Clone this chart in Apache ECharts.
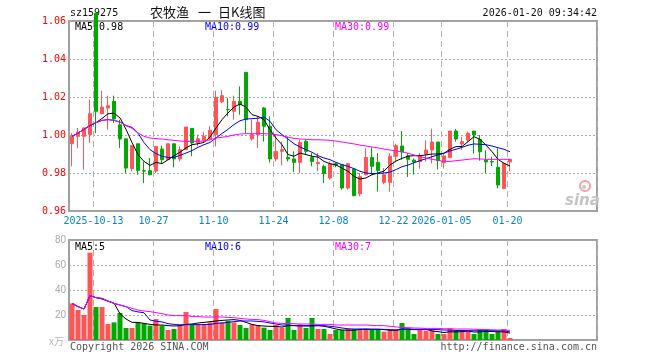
<!DOCTYPE html>
<html><head><meta charset="utf-8">
<script src="https://cdn.jsdelivr.net/npm/echarts@6/dist/echarts.min.js"></script>
<style>html,body{margin:0;padding:0;background:#fff}#c{width:660px;height:360px}</style>
</head><body><div id="c"></div>
<script>
// ---- data ----
const dates = ['2025-09-29','2025-09-30','2025-10-09','2025-10-10',
'2025-10-13','2025-10-14','2025-10-15','2025-10-16','2025-10-17',
'2025-10-20','2025-10-21','2025-10-22','2025-10-23','2025-10-24',
'2025-10-27','2025-10-28','2025-10-29','2025-10-30','2025-10-31',
'2025-11-03','2025-11-04','2025-11-05','2025-11-06','2025-11-07',
'2025-11-10','2025-11-11','2025-11-12','2025-11-13','2025-11-14',
'2025-11-17','2025-11-18','2025-11-19','2025-11-20','2025-11-21',
'2025-11-24','2025-11-25','2025-11-26','2025-11-27','2025-11-28',
'2025-12-01','2025-12-02','2025-12-03','2025-12-04','2025-12-05',
'2025-12-08','2025-12-09','2025-12-10','2025-12-11','2025-12-12',
'2025-12-15','2025-12-16','2025-12-17','2025-12-18','2025-12-19',
'2025-12-22','2025-12-23','2025-12-24','2025-12-25','2025-12-26',
'2025-12-29','2025-12-30','2025-12-31',
'2026-01-05','2026-01-06','2026-01-07','2026-01-08','2026-01-09',
'2026-01-12','2026-01-13','2026-01-14','2026-01-15','2026-01-16',
'2026-01-19','2026-01-20'];
const emptySlots = 14;
const labelDates = ['2025-10-13','2025-10-27','2025-11-10','2025-11-24','2025-12-08','2025-12-22','2026-01-05','2026-01-20'];
const labelTexts = ['2025-10-13','10-27','11-10','11-24','12-08','12-22','2026-01-05','01-20'];
const priceTicks = [0.96, 1.06, 0.02];
const volTicks = [0, 80, 20];

const opens = [0.9954,0.9993,0.9993,1.0002,1.0640,1.0112,1.0142,1.0177,1.0054,0.9980,
0.9823,0.9954,0.9812,0.9812,0.9810,0.9926,0.9870,0.9954,0.9874,0.9923,
1.0035,0.9960,0.9972,0.9979,1.0002,1.0175,1.0135,1.0125,1.0177,1.0330,
0.9980,1.0002,1.0142,1.0046,0.9874,0.9914,0.9882,0.9874,0.9856,0.9967,
0.9882,0.9849,0.9835,0.9774,0.9849,0.9844,0.9721,0.9821,0.9691,0.9791,
0.9882,0.9856,0.9751,0.9751,0.9888,0.9942,0.9890,0.9868,0.9860,0.9900,
0.9921,0.9963,0.9854,0.9882,1.0021,0.9953,0.9974,1.0021,0.9977,0.9868,
0.9860,0.9830,0.9719,0.9858];
const closes = [0.9993,1.0014,1.0037,1.0112,1.0125,1.0147,1.0154,1.0084,0.9979,0.9826,
0.9944,0.9814,0.9810,0.9791,0.9940,0.9870,0.9954,0.9874,0.9923,1.0042,
0.9958,0.9980,0.9993,1.0025,1.0198,1.0207,1.0133,1.0177,1.0160,1.0081,
1.0002,1.0067,1.0046,0.9874,0.9914,0.9923,0.9874,0.9856,0.9961,0.9914,
0.9861,0.9856,0.9797,0.9849,0.9842,0.9721,0.9849,0.9681,0.9782,0.9882,
0.9835,0.9814,0.9791,0.9888,0.9944,0.9910,0.9872,0.9858,0.9890,0.9921,
0.9963,0.9865,0.9890,1.0021,0.9979,0.9965,1.0009,1.0000,0.9912,0.9858,
0.9858,0.9737,0.9851,0.9872];
const lows = [0.9835,0.9930,0.9818,0.9958,1.0010,1.0110,1.0028,1.0063,0.9932,0.9800,
0.9810,0.9791,0.9747,0.9788,0.9800,0.9849,0.9870,0.9830,0.9861,0.9923,
0.9888,0.9940,0.9961,0.9972,0.9940,1.0168,1.0098,1.0081,1.0107,1.0010,
0.9970,0.9932,0.9965,0.9856,0.9861,0.9840,0.9861,0.9805,0.9800,0.9896,
0.9835,0.9810,0.9747,0.9765,0.9830,0.9712,0.9712,0.9677,0.9677,0.9786,
0.9791,0.9702,0.9742,0.9702,0.9856,0.9870,0.9779,0.9791,0.9823,0.9860,
0.9851,0.9819,0.9824,0.9877,0.9965,0.9921,0.9965,0.9902,0.9865,0.9800,
0.9837,0.9719,0.9714,0.9809];
const highs = [1.0010,1.0037,1.0040,1.0186,1.0640,1.0233,1.0207,1.0207,1.0080,0.9980,
0.9944,0.9954,0.9861,0.9879,0.9940,0.9944,0.9954,0.9954,0.9940,1.0042,
1.0035,1.0002,1.0014,1.0046,1.0233,1.0235,1.0195,1.0207,1.0256,1.0330,
1.0081,1.0098,1.0147,1.0098,1.0002,0.9965,0.9989,0.9914,0.9975,0.9975,
0.9905,0.9905,0.9844,0.9861,0.9856,0.9844,0.9852,0.9821,0.9800,0.9930,
0.9935,0.9905,0.9826,0.9905,0.9954,1.0021,0.9905,0.9877,0.9905,0.9972,
1.0033,0.9963,0.9905,1.0021,1.0032,0.9991,1.0018,1.0021,1.0000,0.9919,
0.9886,0.9930,0.9854,0.9872];

const ma5 = [0.9993,1.0010,1.0030,1.0050,1.0065,1.0087,1.0112,1.0115,1.0090,1.0030,
0.9960,0.9897,0.9861,0.9840,0.9856,0.9849,0.9870,0.9891,0.9909,0.9932,
0.9949,0.9954,0.9961,0.9989,1.0037,1.0081,1.0116,1.0147,1.0163,1.0147,
1.0107,1.0098,1.0081,1.0028,0.9984,0.9949,0.9897,0.9888,0.9905,0.9897,
0.9888,0.9884,0.9861,0.9849,0.9842,0.9826,0.9809,0.9782,0.9768,0.9774,
0.9791,0.9800,0.9810,0.9842,0.9863,0.9877,0.9889,0.9891,0.9891,0.9895,
0.9900,0.9900,0.9904,0.9925,0.9939,0.9939,0.9965,0.9991,0.9977,0.9947,
0.9912,0.9872,0.9851,0.9837];
const ma10 = [0.9993,1.0010,1.0030,1.0050,1.0065,1.0077,1.0081,1.0077,1.0068,1.0050,
1.0040,1.0010,0.9960,0.9923,0.9902,0.9888,0.9882,0.9882,0.9893,0.9905,
0.9918,0.9935,0.9949,0.9961,0.9984,1.0008,1.0030,1.0055,1.0075,1.0084,
1.0086,1.0088,1.0095,1.0072,1.0028,1.0002,0.9979,0.9954,0.9937,0.9923,
0.9909,0.9891,0.9879,0.9870,0.9856,0.9844,0.9835,0.9823,0.9809,0.9800,
0.9797,0.9797,0.9800,0.9805,0.9818,0.9833,0.9842,0.9854,0.9865,0.9875,
0.9886,0.9895,0.9904,0.9916,0.9925,0.9935,0.9946,0.9953,0.9951,0.9949,
0.9942,0.9933,0.9925,0.9912];
const ma30 = [0.9993,1.0010,1.0030,1.0050,1.0065,1.0077,1.0081,1.0077,1.0068,1.0050,
1.0035,1.0011,0.9993,0.9984,0.9981,0.9979,0.9975,0.9972,0.9968,0.9967,
0.9967,0.9967,0.9968,0.9975,0.9984,0.9988,0.9993,1.0000,1.0005,1.0007,
1.0007,1.0007,1.0007,1.0005,1.0002,0.9996,0.9989,0.9982,0.9979,0.9977,
0.9975,0.9975,0.9974,0.9972,0.9968,0.9963,0.9958,0.9953,0.9947,0.9942,
0.9937,0.9932,0.9926,0.9921,0.9916,0.9912,0.9904,0.9895,0.9886,0.9879,
0.9872,0.9867,0.9861,0.9861,0.9865,0.9868,0.9872,0.9875,0.9874,0.9872,
0.9872,0.9872,0.9872,0.9872];

const volumes = [29.3,24,20,69.9,26.4,26.4,12.8,14.1,21.6,9.6,
9.6,14.1,13.3,11.5,16.8,11.5,8,8.8,12.5,22.4,
12.5,12.5,12.5,14.1,24.8,14.1,15.2,14.1,12,9.6,
12.5,12,9.9,8,12,9.9,17.6,8,12.5,9.6,
17.6,8.8,8.8,4.8,8,8,8.8,8.8,8.8,8.8,
8,8,6.7,8,8,13.6,8,4.8,8.8,7.5,
7.5,4.8,4.8,9.3,8,6.7,6.7,4.8,8.8,8.8,
4.8,6.7,8.8,1.6];
const volMa5 = [29.3,26.7,24.8,35.5,33.9,32.8,31,29.5,21,16.8,
14.1,14.1,13.3,12.5,12,12,11.5,11.2,11.5,12.5,
12.8,13.6,14.1,14.7,15.2,15.7,16,16.3,15.7,14.1,
12.5,11.5,11.2,10.9,10.9,10.4,11.5,11.5,11.5,11.5,
11.5,11.5,11,10,8.8,8,7.8,7.8,8.5,8.6,
8.6,8.6,8.3,7.9,7.7,8.7,9,8.5,8.6,8.6,
7.3,6.7,6,6.6,6.5,6.7,7.1,6.4,6.5,6.9,
6.8,6.6,6.5,5.5];
const volMa10 = [29.3,26.7,24.8,35.5,33.9,33.3,31.2,29.3,28,26.7,
23.5,22.5,21.8,16,15,14.5,13.1,12.5,12,12.3,
12.3,12.3,12.3,12.5,13.3,13.6,14.1,14.7,15.2,15.2,
15.2,14.9,14.5,13.6,12.8,12,12,11.5,11.2,11.2,
11.2,11.5,11.5,11,10.4,9.6,9,8.8,8.8,8.8,
8.6,8.6,8.5,8.3,8.1,8.5,8.5,8.3,8.3,8.5,
8.5,8.3,8,7.9,7.7,7.6,7.5,7.4,7.4,7.4,
7.4,7.4,7.5,6.4];
const volMa30 = [29.3,26.7,24.8,35.5,33.9,33.3,31.2,29.3,28,26.7,
25.3,24,23.2,22.7,21.9,21.1,20,19.5,19.5,19.5,
18.9,18.7,18.4,18.4,18.4,18.4,18.1,17.9,17.3,16.8,
16.5,16.3,15.7,14.7,13.6,13.3,13.1,13.1,12.8,12.8,
12.8,12.5,12.5,12.5,12,12,12,12,12,12,
11.7,11.5,11.5,11,10.5,10,9.9,9.6,9.5,9.3,
9.3,9.3,9,9,8.8,8.8,8.8,8.6,8.5,8.3,
8.2,8,8,7.7];

// ---- chart ----
const UP = '#ff5555', DOWN = '#00a800';
const MONO = '"DejaVu Sans Mono", "Liberation Mono", monospace';
const cats = dates.slice();
for (let i = 0; i < emptySlots; i++) cats.push('~' + i);
const labelMap = {};
labelDates.forEach((d, i) => { labelMap[d] = labelTexts[i]; });
const isLabel = (idx, v) => labelMap[cats[idx]] !== undefined;

const kData = dates.map((d, i) => [opens[i], closes[i], lows[i], highs[i]]);
const volData = volumes.map((v, i) => ({
  value: v,
  itemStyle: { color: closes[i] >= opens[i] ? UP : DOWN }
}));

function xAxisCfg(gi, showLabels) {
  return {
    type: 'category', gridIndex: gi, data: cats, boundaryGap: true,
    axisLine: { show: false }, axisTick: { show: false },
    axisLabel: showLabels ? {
      show: true, interval: isLabel, margin: 5,
      formatter: v => labelMap[v] || '',
      color: '#0a84d0', fontFamily: MONO, fontSize: 10,
      padding: [0, 5, 0, 0]
    } : { show: false },
    splitLine: { show: true, interval: isLabel,
      lineStyle: { color: '#b0b0b0', width: 1, type: [6, 4] } }
  };
}
function lineS(name, data, color, xi, yi) {
  return { name, type: 'line', data, xAxisIndex: xi, yAxisIndex: yi,
    symbol: 'none', smooth: false, silent: true,
    lineStyle: { color, width: 1 }, itemStyle: { color } };
}

const txt = (x, y, text, fill, extra) => Object.assign({
  type: 'text', x, y, silent: true,
  style: Object.assign({ text, fill, font: '10px ' + MONO, align: 'left', verticalAlign: 'middle' }, extra || {})
});

const chart = echarts.init(document.getElementById('c'), null, { renderer: 'canvas' });
chart.setOption({
  animation: false,
  backgroundColor: '#ffffff',
  grid: [
    { left: 69, top: 21, width: 528, height: 190, show: true, borderColor: '#a0a0a0', borderWidth: 2, backgroundColor: 'transparent' },
    { left: 69, top: 240, width: 528, height: 100, show: true, borderColor: '#a0a0a0', borderWidth: 2, backgroundColor: 'transparent' }
  ],
  xAxis: [xAxisCfg(0, true), xAxisCfg(1, false)],
  yAxis: [
    { type: 'value', gridIndex: 0, min: priceTicks[0], max: priceTicks[1], interval: priceTicks[2], scale: true,
      axisLine: { show: false }, axisTick: { show: false },
      axisLabel: { color: '#ff0000', fontFamily: MONO, fontSize: 10, margin: 3, formatter: v => v.toFixed(2) },
      splitLine: { lineStyle: { color: '#a8a8a8', type: [2, 2], width: 1 } } },
    { type: 'value', gridIndex: 1, min: volTicks[0], max: volTicks[1], interval: volTicks[2],
      axisLine: { show: false }, axisTick: { show: false },
      axisLabel: { color: '#a8a8a8', fontFamily: '"Liberation Sans", Arial, sans-serif', fontSize: 10, margin: 3,
        formatter: v => v === 0 ? '' : String(v) },
      splitLine: { lineStyle: { color: '#a8a8a8', type: [2, 2], width: 1 } } }
  ],
  series: [
    { type: 'candlestick', xAxisIndex: 0, yAxisIndex: 0, data: kData, barWidth: 4, clip: true, silent: true,
      itemStyle: { color: UP, color0: DOWN, borderColor: UP, borderColor0: DOWN, borderWidth: 1 } },
    lineS('MA5', ma5, '#000000', 0, 0),
    lineS('MA10', ma10, '#0000ff', 0, 0),
    lineS('MA30', ma30, '#ff00ff', 0, 0),
    { type: 'bar', xAxisIndex: 1, yAxisIndex: 1, data: volData, barWidth: 5, silent: true },
    lineS('VMA5', volMa5, '#000000', 1, 1),
    lineS('VMA10', volMa10, '#0000ff', 1, 1),
    lineS('VMA30', volMa30, '#ff00ff', 1, 1)
  ],
  graphic: [
    txt(70, 13, 'sz159275', '#111'),
    txt(150, 12, '农牧渔', '#111', { font: '13px "Noto Sans CJK SC", sans-serif' }),
    txt(198, 12, '一', '#111', { font: '13px "Noto Sans CJK SC", sans-serif' }),
    txt(218, 12, '日K线图', '#111', { font: '13px "Noto Sans CJK SC", sans-serif' }),
    txt(597, 13, '2026-01-20 09:34:42', '#111', { align: 'right' }),
    txt(75, 27, 'MA5:0.98', '#000'),
    txt(205, 27, 'MA10:0.99', '#0000ff'),
    txt(335, 27, 'MA30:0.99', '#ff00ff'),
    txt(75, 247, 'MA5:5', '#000'),
    txt(205, 247, 'MA10:6', '#0000ff'),
    txt(335, 247, 'MA30:7', '#ff00ff'),
    txt(64, 341, 'x万', '#b8b8b8', { align: 'right', font: '10px "Noto Sans CJK SC", sans-serif' }),
    txt(70, 347, 'Copyright 2026 SINA.COM', '#555'),
    txt(597, 347, 'http://finance.sina.com.cn', '#555', { align: 'right' }),
    { type: 'circle', shape: { cx: 585, cy: 186, r: 5 }, silent: true,
      style: { fill: 'none', stroke: '#f3a0a0', lineWidth: 2 } },
    { type: 'circle', shape: { cx: 584, cy: 187, r: 2 }, silent: true,
      style: { fill: '#c8c8c8' } },
    txt(565, 201, 'sina', '#c4c4c4', { font: 'italic bold 15px "DejaVu Sans", sans-serif' })
  ]
});
</script></body></html>
